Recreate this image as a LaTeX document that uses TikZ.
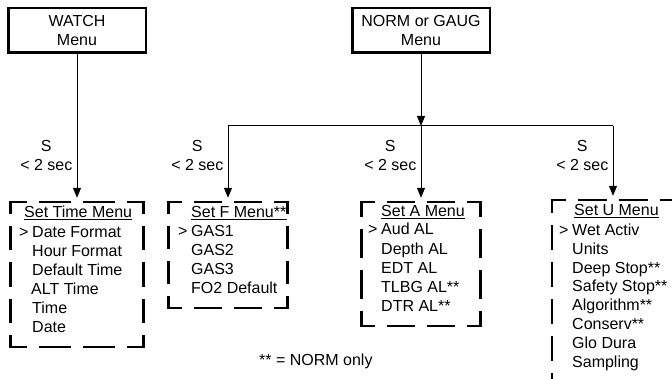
\documentclass[tikz,border=0pt]{standalone}
\usepackage{fontspec}
\setmainfont{Liberation Sans}
\usetikzlibrary{arrows.meta,calc}
\newcommand\frside[4]{%
  \pgfmathsetmacro\frL{veclen((#3)-(#1),(#4)-(#2))}%
  \pgfmathsetmacro\frN{max(1,round(\frL/40))}%
  \pgfmathsetmacro\frOn{\frL/\frN-14.2}%
  \pgfmathsetmacro\frPh{\frOn/2}%
  \draw[framedash, dash pattern=on \frOn pt off 14.2pt, dash phase=\frPh pt] (#1,#2) -- (#3,#4);%
}
\newcommand\dashedframe[5]{%
  \node[zone, minimum width={(#4)-(#2)}, minimum height={(#5)-(#3)}] (#1) at ({((#2)+(#4))/2},{((#3)+(#5))/2}) {};%
  \frside{#2}{#3}{#4}{#3}%
  \frside{#4}{#3}{#4}{#5}%
  \frside{#4}{#5}{#2}{#5}%
  \frside{#2}{#5}{#2}{#3}%
}
\tikzset{
  txt/.style={font=\fontsize{16}{19}\selectfont, inner sep=0pt, anchor=base west},
  lbl/.style={font=\fontsize{16}{19}\selectfont, inner sep=0pt},
  menubox/.style={draw, line width=2.5pt, minimum width=137.5pt, minimum height=44.5pt,
    align=center, font=\fontsize{16}{18.5}\selectfont, inner sep=0pt},
  zone/.style={rectangle, inner sep=0pt, draw=none},
  framedash/.style={line width=2.2pt, line cap=rect},
  conn/.style={line width=1pt},
  arr/.style={conn, -{Triangle[length=10pt,width=8pt]}},
  uline/.style={line width=0.9pt}
}
\begin{document}
\begin{tikzpicture}[x=1pt,y=-1pt]
\useasboundingbox (0,0) rectangle (672,379);
\clip (0,0) rectangle (672,379);

% top menus
\node[menubox] (watch) at (77,30.5) {WATCH\\Menu};
\node[menubox] (norm) at (421,30.5) {NORM or GAUG\\Menu};

% dashed sub-menu frames
\dashedframe{stm}{10.5}{202}{143.5}{347}
\dashedframe{sf}{168.5}{202}{287.5}{308}
\dashedframe{sa}{361.5}{202}{480.5}{326}
\dashedframe{su}{552}{200}{674}{386}

% connectors
\coordinate (hl) at (228,126);
\coordinate (hr) at (613,126);
\draw[arr] (watch.south) -- ([yshift=4pt]stm.north);
\draw[arr] (norm.south) -- (norm.south |- hl);
\draw[conn] (hl) -- (hr);
\draw[arr] (hl) -- ([yshift=4pt]sf.north);
\draw[arr] (sa.north |- hl) -- ([yshift=4pt]sa.north);
\draw[arr] (hr) -- ([yshift=4pt]su.north);

% S / < 2 sec labels
\node[lbl, anchor=base east] (l1) at (72.5,170.5) {< 2 sec};
\node[lbl, anchor=base] (s1) at ([yshift=19pt]l1.base) {S};
\node[lbl, anchor=base east] (l2) at (223.5,170.5) {< 2 sec};
\node[lbl, anchor=base] (s2) at ([yshift=19pt]l2.base) {S};
\node[lbl, anchor=base east] (l3) at (416.5,170.5) {< 2 sec};
\node[lbl, anchor=base] (s3) at ([yshift=19pt]l3.base) {S};
\node[lbl, anchor=base east] (l4) at (608.5,170.5) {< 2 sec};
\node[lbl, anchor=base] (s4) at ([yshift=19pt]l4.base) {S};

% Set Time Menu
\node[txt] (tt) at (24,218) {Set Time Menu};
\draw[uline] ([yshift=-1.8pt]tt.base west) -- ([yshift=-1.8pt]tt.base east);
\node[txt] (tg) at (19,237.2) {>};
\node[txt] (t1) at (32,237.2) {Date Format};
\node[txt] (t2) at (32,256.3) {Hour Format};
\node[txt] (t3) at (32,275.4) {Default Time};
\node[txt] (t4) at (31,294.5) {ALT Time};
\node[txt] (t5) at (32,313.6) {Time};
\node[txt] (t6) at (32,332.7) {Date};

% Set F Menu
\node[txt] (ft) at (191,218) {Set F Menu**};
\draw[uline] ([yshift=-1.8pt]ft.base west) -- ([yshift=-1.8pt]ft.base east);
\node[txt] (fg) at (178,237) {>};
\node[txt] (f1) at (191,237) {GAS1};
\node[txt] (f2) at (191,256) {GAS2};
\node[txt] (f3) at (191,275) {GAS3};
\node[txt] (f4) at (191,294) {FO2 Default};

% Set A Menu
\node[txt] (at) at (381,216.5) {Set A Menu};
\draw[uline] ([yshift=-1.8pt]at.base west) -- ([yshift=-1.8pt]at.base east);
\node[txt] (ag) at (368,235) {>};
\node[txt] (a1) at (381,235) {Aud AL};
\node[txt] (a2) at (381,254.2) {Depth AL};
\node[txt] (a3) at (381,273.4) {EDT AL};
\node[txt] (a4) at (381,292.6) {TLBG AL**};
\node[txt] (a5) at (381,311.8) {DTR AL**};

% Set U Menu
\node[txt] (ut) at (574,216) {Set U Menu};
\draw[uline] ([yshift=-1.8pt]ut.base west) -- ([yshift=-1.8pt]ut.base east);
\node[txt] (ug) at (559,235.5) {>};
\node[txt] (u1) at (572,235.5) {Wet Activ};
\node[txt] (u2) at (572,254.3) {Units};
\node[txt] (u3) at (572,273.1) {Deep Stop**};
\node[txt] (u4) at (572,291.9) {Safety Stop**};
\node[txt] (u5) at (572,310.7) {Algorithm**};
\node[txt] (u6) at (572,329.5) {Conserv**};
\node[txt] (u7) at (572,348.3) {Glo Dura};
\node[txt] (u8) at (572,367.1) {Sampling};

% footnote
\node[txt] (note) at (259,365.5) {** = NORM only};
\end{tikzpicture}
\end{document}
